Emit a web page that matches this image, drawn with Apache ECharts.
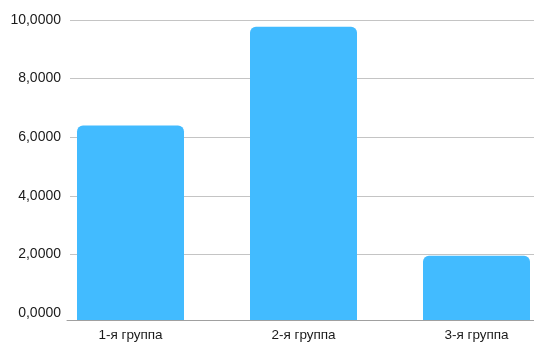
<!DOCTYPE html>
<html>
<head>
<meta charset="utf-8">
<script src="https://cdn.jsdelivr.net/npm/echarts@6/dist/echarts.min.js"></script>
<style>
html,body{margin:0;padding:0;background:#fff;}
#chart{width:534px;height:343px;}
</style>
</head>
<body>
<div id="chart"></div>
<script>
var categories = ['1-я группа', '2-я группа', '3-я группа'];
var values = [6.4, 9.77, 1.95];
var yTicks = [0, 2, 4, 6, 8, 10];
var axisFloor = -0.24; // the category axis line sits slightly below the 0 tick

var chart = echarts.init(document.getElementById('chart'), null, {renderer: 'canvas'});
var font = 'Liberation Sans, Arial, Helvetica, sans-serif';
var color = '#42bbff';
chart.setOption({
  animation: false,
  grid: [
    {left: 70, right: 0, top: 20, bottom: 30, outerBoundsMode: 'none'},
    {left: 44, width: 519, top: 20, bottom: 23, outerBoundsMode: 'none'},
    {left: 67, right: 0, top: 20, bottom: 23, outerBoundsMode: 'none'}
  ],
  xAxis: [
    {gridIndex: 0, type: 'value', min: 0, max: 1, show: false},
    {gridIndex: 1, type: 'category', data: categories,
     axisLine: {show: false}, axisTick: {show: false},
     axisLabel: {color: '#1a1a1a', fontSize: 13.5, fontFamily: font, margin: 8}},
    {gridIndex: 2, type: 'value', min: 0, max: 1, position: 'bottom',
     axisLine: {show: true, onZero: false, lineStyle: {color: '#a0a0a0', width: 1}},
     axisTick: {show: false}, axisLabel: {show: false}, splitLine: {show: false}}
  ],
  yAxis: [
    {gridIndex: 0, type: 'value', min: yTicks[0], max: yTicks[yTicks.length - 1], interval: 2,
     axisLine: {show: false}, axisTick: {show: false},
     axisLabel: {color: '#1a1a1a', fontSize: 14, fontFamily: font, margin: 9,
       formatter: function (v) { return v.toFixed(4).replace('.', ','); }},
     splitLine: {showMinLine: false, lineStyle: {color: '#c4c4c4', width: 1}}},
    {gridIndex: 1, type: 'value', min: axisFloor, max: 10, show: false, splitLine: {show: false}},
    {gridIndex: 2, type: 'value', min: 0, max: 1, show: false}
  ],
  series: [{
    type: 'bar',
    xAxisIndex: 1, yAxisIndex: 1,
    stack: 'b',
    data: categories.map(function () { return axisFloor; }),
    barWidth: 107,
    silent: true,
    itemStyle: {color: color}
  }, {
    type: 'bar',
    xAxisIndex: 1, yAxisIndex: 1,
    stack: 'b',
    data: values,
    barWidth: 107,
    itemStyle: {color: color, borderRadius: [6, 6, 0, 0]}
  }]
});
</script>
</body>
</html>
